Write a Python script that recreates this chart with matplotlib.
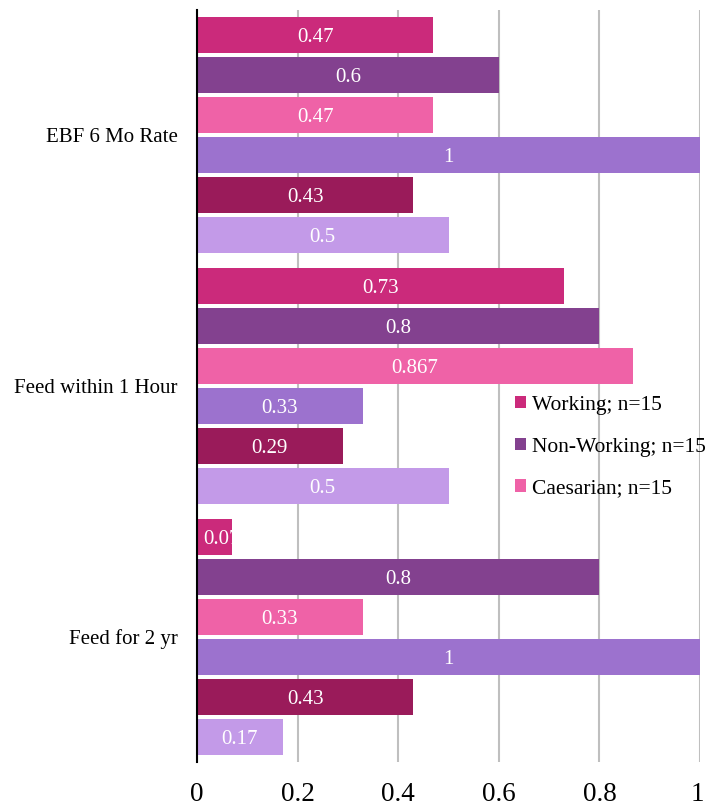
import numpy as np
import matplotlib
matplotlib.use("Agg")
import matplotlib.pyplot as plt
import matplotlib.transforms as mtransforms
from matplotlib.patches import Patch

plt.rcParams['font.family'] = ['Liberation Serif', 'DejaVu Serif']

categories = ["EBF 6 Mo Rate", "Feed within 1 Hour", "Feed for 2 yr"]

working = [0.47, 0.73, 0.07]
non_working = [0.6, 0.8, 0.8]
caesarian = [0.47, 0.867, 0.33]
series_4 = [1, 0.33, 1]
series_5 = [0.43, 0.29, 0.43]
series_6 = [0.5, 0.5, 0.17]

labels_working = ["0.47", "0.73", "0.07"]
labels_non_working = ["0.6", "0.8", "0.8"]
labels_caesarian = ["0.47", "0.867", "0.33"]
labels_4 = ["1", "0.33", "1"]
labels_5 = ["0.43", "0.29", "0.43"]
labels_6 = ["0.5", "0.5", "0.17"]

legend_names = ["Working; n=15", "Non-Working; n=15", "Caesarian; n=15"]

series = [working, non_working, caesarian, series_4, series_5, series_6]
series_labels = [labels_working, labels_non_working, labels_caesarian,
                 labels_4, labels_5, labels_6]
colors = ["#CB2A7B", "#83418F", "#EF62A7", "#9C72CE", "#9A1B5A", "#C39AE8"]

fig = plt.figure(figsize=(7.05, 8.07), dpi=100)
ax = fig.add_axes([197 / 705, 1 - 762 / 807, 503 / 705, 752 / 807])

pitch = 0.1596
height = 0.1436
y = np.arange(len(categories))

for j, (vals, labs, col) in enumerate(zip(series, series_labels, colors)):
    pos = y + (j - 2.5) * pitch
    bars = ax.barh(pos, vals, height=height, color=col, zorder=3)
    for bar, lab in zip(bars, labs):
        cx = bar.get_x() + bar.get_width() / 2
        # narrow bars: label starts near the bar base and gets cut off
        if bar.get_width() < 0.1:
            cx = 0.012
            ha = "left"
        else:
            ha = "center"
        t = ax.text(cx, bar.get_y() + bar.get_height() / 2, lab,
                    ha=ha, va="center_baseline", color="white",
                    fontsize=15, zorder=4)
        t.set_clip_on(True)
        t.set_clip_path(bar)

ax.set_xlim(0, 1)
ax.set_ylim(len(categories) - 0.5, -0.5)
ax.set_yticks(y)
ax.set_yticklabels(categories, fontsize=15)
ax.set_xticks([0, 0.2, 0.4, 0.6, 0.8, 1])
ax.set_xticklabels(["0", "0.2", "0.4", "0.6", "0.8", "1"], fontsize=19.5)
ax.tick_params(axis="both", length=0)
ax.tick_params(axis="x", pad=14.5)
ax.tick_params(axis="y", pad=14)

# keep the "1" label inside the figure edge
last = ax.get_xticklabels()[-1]
last.set_transform(last.get_transform()
                   + mtransforms.ScaledTranslation(-3 / 100, 0, fig.dpi_scale_trans))

ax.xaxis.grid(True, color="#BFBFBF", linewidth=1.5, zorder=0)
ax.set_axisbelow(True)
for s in ["top", "right", "bottom"]:
    ax.spines[s].set_visible(False)
ax.spines["left"].set_color("black")
ax.spines["left"].set_linewidth(1.5)
ax.spines["left"].set_zorder(5)

handles = [Patch(facecolor=c) for c in colors[:3]]
fig.legend(handles, legend_names, loc="upper left",
           bbox_to_anchor=(515 / 705, 1 - 396 / 807),
           frameon=False, fontsize=15.5, handlelength=0.5, handleheight=0.5,
           handletextpad=0.3, labelspacing=1.05, borderpad=0, borderaxespad=0)

fig.savefig("out.png", dpi=100)
